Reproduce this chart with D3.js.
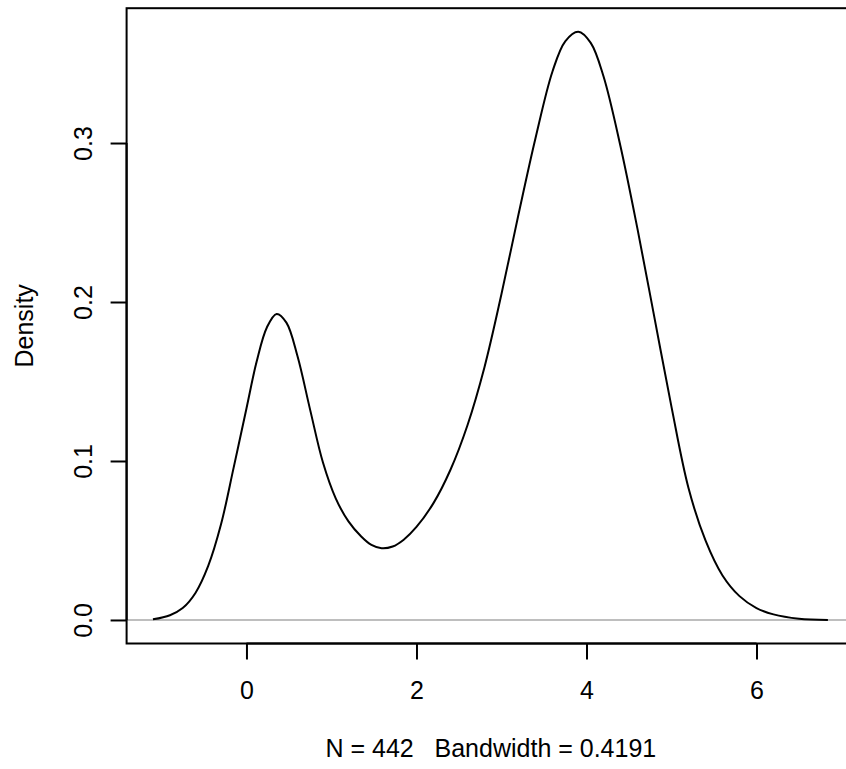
<!DOCTYPE html>
<html>
<head>
<meta charset="utf-8">
<script src="https://cdn.jsdelivr.net/npm/d3@7"></script>
<style>
  html, body { margin: 0; padding: 0; background: #fff; }
  svg { display: block; }
  text { font-family: "Liberation Sans", Arial, sans-serif; fill: #000; white-space: pre; }
</style>
</head>
<body>
<svg id="chart" width="846" height="769"></svg>
<script>
// Density estimate
const densityX = [-1.10, -0.90, -0.75, -0.60, -0.45, -0.30, -0.15, 0.00, 0.12, 0.24,
  0.355, 0.47, 0.60, 0.75, 0.90, 1.05, 1.20, 1.35, 1.47, 1.59,
  1.72, 1.85, 2.00, 2.20, 2.40, 2.60, 2.80, 3.00, 3.20, 3.40,
  3.60, 3.75, 3.904, 4.05, 4.20, 4.40, 4.60, 4.80, 5.00, 5.20,
  5.40, 5.60, 5.80, 6.00, 6.20, 6.50, 6.84];
const densityY = [0.0004, 0.0030, 0.0075, 0.0170, 0.0340, 0.0600, 0.0960, 0.1330, 0.1625, 0.1840,
  0.1925, 0.1870, 0.1660, 0.1320, 0.0990, 0.0765, 0.0620, 0.0525, 0.0472, 0.0451,
  0.0462, 0.0505, 0.0585, 0.0735, 0.0945, 0.1225, 0.1590, 0.2050, 0.2550, 0.3030,
  0.3450, 0.3640, 0.3700, 0.3630, 0.3420, 0.2980, 0.2460, 0.1900, 0.1340, 0.0830,
  0.0500, 0.0280, 0.0150, 0.0075, 0.0035, 0.0008, 0.0000];
const xTicks = [0, 2, 4, 6];
const yTicks = [0.0, 0.1, 0.2, 0.3];
const yTickLabels = ["0.0", "0.1", "0.2", "0.3"];
const yLabel = "Density";
const xLabel = "N = 442   Bandwidth = 0.4191";

const svg = d3.select("#chart");
const pLeft = 126.6, pRight = 855.1, pTop = 8.2, pBottom = 643.5;
const x = d3.scaleLinear().domain([-1.41, 7.16]).range([pLeft, pRight]);
const y = d3.scaleLinear().domain([-0.0148, 0.3848]).range([pBottom, pTop]);

const fs = 25;

// zero reference line
svg.append("line")
  .attr("x1", pLeft).attr("x2", pRight)
  .attr("y1", y(0)).attr("y2", y(0))
  .attr("stroke", "#bebebe").attr("stroke-width", 2);

// density curve
const pts = densityX.map((d, i) => [d, densityY[i]]);
svg.append("path")
  .datum(pts)
  .attr("fill", "none")
  .attr("stroke", "#000")
  .attr("stroke-width", 2)
  .attr("d", d3.line().x(d => x(d[0])).y(d => y(d[1])).curve(d3.curveCatmullRom.alpha(0.5)));

// box
svg.append("rect")
  .attr("x", pLeft).attr("y", pTop)
  .attr("width", pRight - pLeft).attr("height", pBottom - pTop)
  .attr("fill", "none").attr("stroke", "#000").attr("stroke-width", 2);

// x axis
const xAxis = svg.append("g").attr("transform", `translate(0,${pBottom})`)
  .call(d3.axisBottom(x).tickValues(xTicks).tickSize(16).tickFormat(d3.format("d")));
xAxis.select(".domain").attr("d", `M${x(xTicks[0])},0H${x(xTicks[xTicks.length-1])}`)
  .attr("stroke-width", 2);
xAxis.selectAll(".tick line").attr("stroke-width", 2);
xAxis.selectAll("text").attr("font-size", fs).attr("font-family", "Liberation Sans, Arial, sans-serif")
  .attr("dy", null).attr("y", 55);

// y axis
const yAxis = svg.append("g").attr("transform", `translate(${pLeft},0)`)
  .call(d3.axisLeft(y).tickValues(yTicks).tickSize(16).tickFormat((d, i) => yTickLabels[i]));
yAxis.select(".domain").attr("d", `M0,${y(yTicks[0])}V${y(yTicks[yTicks.length-1])}`)
  .attr("stroke-width", 2);
yAxis.selectAll(".tick line").attr("stroke-width", 2);
yAxis.selectAll("text")
  .attr("font-size", fs).attr("font-family", "Liberation Sans, Arial, sans-serif")
  .attr("x", null).attr("dy", null)
  .attr("text-anchor", "middle")
  .attr("transform", "translate(-35,0) rotate(-90)");

// axis labels
svg.append("text")
  .attr("x", (pLeft + pRight) / 2).attr("y", 757)
  .attr("text-anchor", "middle").attr("font-size", fs)
  .text(xLabel);
svg.append("text")
  .attr("transform", `translate(33,${(pTop + pBottom) / 2}) rotate(-90)`)
  .attr("text-anchor", "middle").attr("font-size", fs)
  .text(yLabel);
</script>
</body>
</html>
